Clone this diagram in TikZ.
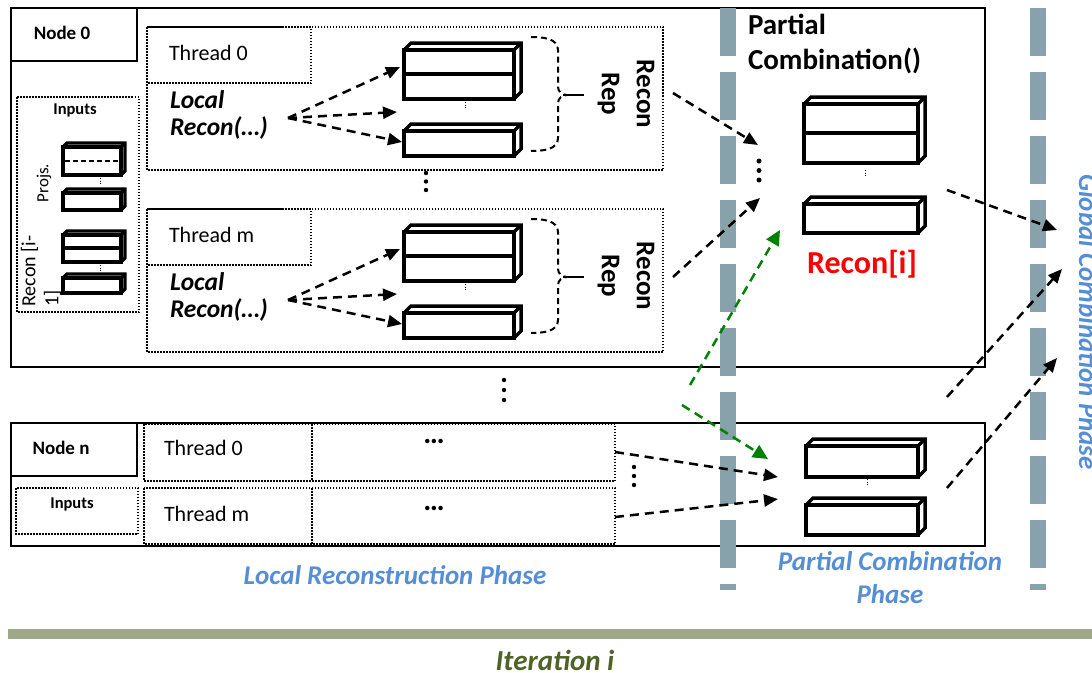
\documentclass[tikz,border=0pt]{standalone}
\usepackage{fontspec}
\setmainfont{Carlito}
\usetikzlibrary{arrows.meta}

\definecolor{phasebar}{RGB}{135,162,170}
\definecolor{phaseblue}{RGB}{85,142,213}
\definecolor{iterbar}{RGB}{158,168,136}
\definecolor{iterfg}{RGB}{79,98,40}
\definecolor{mergegreen}{RGB}{0,128,0}

% 3-D data slab: front face (x1,y1)-(x2,y2), receding by d up and to the right
\newcommand{\drawslab}[6][slab]{%
  \draw[#1] (#2,#3) rectangle (#4,#5);
  \draw[#1] (#2,#3) -- ++(#6,-#6) -- (#4+#6,#3-#6) -- (#4+#6,#5-#6) -- (#4,#5);
  \draw[#1] (#4,#3) -- ++(#6,-#6);
}

\tikzset{
  frame/.style={draw=black, line width=2pt},
  dotbox/.style={draw=black, line width=1.5pt, dash pattern=on 1.5pt off 1.5pt},
  slab/.style={draw=black, line width=3.5pt, line join=miter},
  smallslab/.style={draw=black, line width=3.2pt, line join=miter},
  tinydots/.style={draw=black, line width=1pt, dash pattern=on 1pt off 1.5pt},
  darr/.style={draw=black, line width=2.5pt, dash pattern=on 9pt off 6pt,
    -{Triangle[length=14pt,width=12pt]}},
  garr/.style={draw=mergegreen, line width=2.5pt, dash pattern=on 9pt off 6pt,
    -{Triangle[length=15pt,width=14pt]}},
  bracepath/.style={draw=black, line width=2pt, dash pattern=on 6pt off 4pt},
  phasesep/.style={draw=phasebar, line width=16pt, dash pattern=on 48pt off 16pt},
  bigdot/.style={fill=black},
  txt/.style={inner sep=0pt, outer sep=0pt},
  nodelbl/.style={txt, font=\fontsize{19}{22}\selectfont\bfseries},
  inlbl/.style={txt, font=\fontsize{16.5}{19}\selectfont\bfseries},
  thr/.style={txt, font=\fontsize{22}{26}\selectfont},
  smalltxt/.style={txt, font=\fontsize{17}{22}\selectfont},
  prevtxt/.style={txt, font=\fontsize{20}{23}\selectfont},
  lrec/.style={txt, font=\fontsize{25.5}{27.5}\selectfont\bfseries\itshape},
  rrep/.style={txt, font=\fontsize{27}{35}\selectfont\bfseries},
  pcomb/.style={txt, font=\fontsize{29}{35}\selectfont\bfseries},
  reconi/.style={txt, text=red, font=\fontsize{32}{36}\selectfont\bfseries},
  phase/.style={txt, text=phaseblue, font=\fontsize{27}{33}\selectfont\bfseries\itshape},
  iter/.style={txt, text=iterfg, font=\fontsize{29}{32}\selectfont\bfseries\itshape},
  ell/.style={txt, font=\fontsize{30}{30}\selectfont\bfseries},
}

\begin{document}
\begin{tikzpicture}[x=1pt, y=-1pt]
\useasboundingbox (0,0) rectangle (1092,672);
\fill[white] (0,0) rectangle (1092,672);

% ---------------- Node 0 ----------------
\draw[frame] (11,8) rectangle (985,367);
\draw[frame] (11,8) rectangle (137,61);
\node[nodelbl] (node0) at (62,33) {Node 0};

% inputs of node 0
\draw[dotbox] (17,97) rectangle (139,312);
\node[inlbl] (inputs0) at (75,110) {Inputs};
\node[smalltxt, rotate=90] (projs) at (44,183) {Projs.};
\node[prevtxt, rotate=90, align=left] (prevrecon) at (41,271) {Recon [i-\\1]};
\drawslab[smallslab]{63}{147}{121}{175}{4}
\draw[black, line width=2pt, dash pattern=on 5pt off 3pt] (65,161) -- (120,161);
\drawslab[smallslab]{63}{193}{121}{210}{4}
\draw[tinydots] (100,178) -- (100,184);
\drawslab[smallslab]{63}{235}{121}{262}{4}
\draw[smallslab] (63,248) -- (121,248);
\drawslab[smallslab]{63}{278}{121}{293}{4}
\draw[tinydots] (100,265) -- (100,271);

% threads of node 0
\foreach \dy/\id/\tn in {0/a/0, 182/b/m}{
  \draw[dotbox] (147,27+\dy) rectangle (663,170+\dy);
  \draw[dotbox] (147,27+\dy) rectangle (311,83+\dy);
  \node[thr, anchor=west] (thread\id) at (169,53+\dy) {Thread \tn};
  \node[lrec, anchor=west, align=left] (local\id) at (170,115+\dy) {Local\\Recon(…)};
  \coordinate (src\id) at (288,118+\dy);
  \drawslab{404}{50+\dy}{514}{99+\dy}{7}
  \draw[slab] (404,74+\dy) -- (514,74+\dy);
  \drawslab{404}{131+\dy}{514}{156+\dy}{7}
  \draw[tinydots] (465,102+\dy) -- (465,109+\dy);
  \coordinate (tipa\id) at (400,67+\dy);
  \coordinate (tipb\id) at (397,112+\dy);
  \coordinate (tipc\id) at (402,142+\dy);
  \draw[darr] (src\id) -- (tipa\id);
  \draw[darr] (src\id) -- (tipb\id);
  \draw[darr] (src\id) -- (tipc\id);
  % brace gathering the local reconstruction
  \draw[bracepath] (531,37+\dy) to[out=0, in=90] (558,50+\dy) -- (558,87+\dy)
    to[out=-90, in=180] (567,95+\dy) to[out=180, in=90] (558,103+\dy)
    -- (558,138+\dy) to[out=-90, in=0] (531,151+\dy);
  \draw[black, line width=2pt] (563,95+\dy) -- (584,95+\dy);
  \node[rrep, rotate=-90, align=center] (rep\id) at (626,94+\dy) {Recon\\Rep};
}
\foreach \y in {173,181.5,190} \fill[bigdot] (426,\y) circle (2.2pt);

% partial combination inside node 0
\node[pcomb, anchor=west, align=left] (pcomb) at (748,44) {Partial\\Combination()};
\drawslab{804}{104}{918}{163}{7}
\draw[slab] (804,133) -- (918,133);
\drawslab{804}{204}{918}{233}{7}
\draw[tinydots] (865,170) -- (865,177);
\node[reconi] (reconi) at (862,264) {Recon[i]};
\foreach \y in {161,170.5,180} \fill[bigdot] (759,\y) circle (2.5pt);

% ---------------- Node n ----------------
\draw[frame] (11,423) rectangle (985,546);
\draw[frame] (11,423) rectangle (137,476);
\node[nodelbl] (noden) at (61,448) {Node n};
\draw[dotbox] (16,488) rectangle (138,534);
\node[inlbl] (inputsn) at (72,504) {Inputs};
\draw[dotbox] (144,424) rectangle (615,481);
\draw[dotbox] (312,424) -- (312,481);
\draw[dotbox] (144,488) rectangle (615,544);
\draw[dotbox] (312,488) -- (312,544);
\node[thr, anchor=west] (threadn0) at (164,448) {Thread 0};
\node[thr, anchor=west] (threadnm) at (164,514) {Thread m};
\node[ell] (elln0) at (434,441) {…};
\node[ell] (ellnm) at (434,508) {…};
\foreach \y in {467,476,485} \fill[bigdot] (634,\y) circle (2.2pt);
\drawslab{806}{446}{918}{477}{7}
\drawslab{806}{505}{918}{535}{7}
\draw[tinydots] (867,479) -- (867,486);
\foreach \y in {380,390,400} \fill[bigdot] (504,\y) circle (2.2pt);

% ---------------- phase separators ----------------
\draw[phasesep] (728,8) -- (728,590);
\draw[phasesep] (1038,8) -- (1038,590);

% ---------------- connectors ----------------
\coordinate (repouta) at (673,93);
\coordinate (repoutb) at (673,277);
\coordinate (pcina) at (758,145);
\coordinate (pcinb) at (760,198);
\draw[darr] (repouta) -- (pcina);
\draw[darr] (repoutb) -- (pcinb);

\coordinate (gupfrom) at (690,385);
\coordinate (gupto) at (780,230);
\coordinate (gdownfrom) at (682,405);
\coordinate (gdownto) at (768,459);
\draw[garr] (gupfrom) -- (gupto);
\draw[garr] (gdownfrom) -- (gdownto);

\coordinate (thn0out) at (615,452);
\coordinate (thnmout) at (615,517);
\coordinate (pcnina) at (778,477);
\coordinate (pcninb) at (778,499);
\draw[darr] (thn0out) -- (pcnina);
\draw[darr] (thnmout) -- (pcninb);

\coordinate (pc0out) at (947,190);
\coordinate (pcmid) at (947,397);
\coordinate (pcnout) at (947,488);
\coordinate (gca) at (1057,230);
\coordinate (gcb) at (1062,269);
\coordinate (gcc) at (1057,358);
\draw[darr] (pc0out) -- (gca);
\draw[darr] (pcmid) -- (gcb);
\draw[darr] (pcnout) -- (gcc);

% ---------------- phase labels ----------------
\node[phase] (localphase) at (395,575) {Local Reconstruction Phase};
\node[phase, align=center] (partialphase) at (890,578) {Partial Combination\\Phase};
\node[phase, rotate=-90, anchor=base] (globalphase) at (1079,322) {Global Combination Phase};

% ---------------- iteration band ----------------
\fill[iterbar] (8,629) rectangle (1092,639);
\node[iter] (iteration) at (555,660) {Iteration i};
\end{tikzpicture}
\end{document}
